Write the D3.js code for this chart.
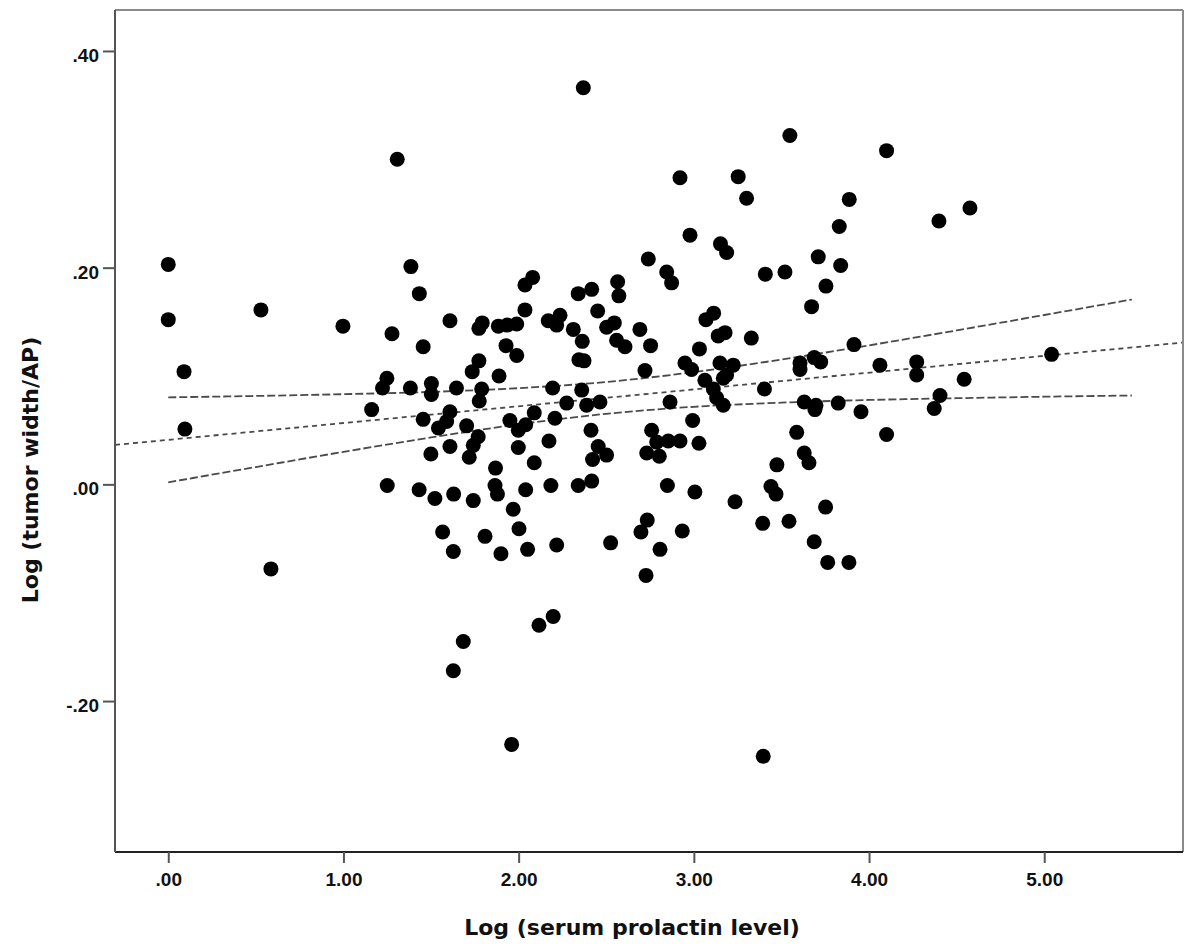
<!DOCTYPE html>
<html>
<head>
<meta charset="utf-8">
<script src="https://cdn.jsdelivr.net/npm/d3@7/dist/d3.min.js"></script>
<style>
  html, body { margin: 0; padding: 0; background: #fff; }
  svg { display: block; }
</style>
</head>
<body>
<svg id="chart" width="1184" height="951"></svg>
<script>
// ---------------- DATA ----------------
const prolactinLog = [
  0.000, 0.000, 0.090, 0.095, 0.529, 0.586, 0.997, 1.161, 1.307, 1.385,
  1.433, 1.277, 1.455, 1.608, 1.248, 1.223, 1.382, 1.502, 1.502, 1.645,
  1.789, 1.775, 1.735, 1.773, 1.455, 1.608, 1.589, 1.542, 1.703, 1.769,
  1.741, 1.718, 1.499, 1.608, 1.868, 1.250, 1.432, 1.522, 1.629, 1.741,
  1.865, 1.879, 1.566, 1.808, 1.627, 1.899, 1.684, 1.627, 2.978, 3.152,
  3.187, 3.408, 3.520, 2.740, 2.845, 2.873, 2.036, 2.080, 2.036, 2.340,
  2.417, 2.565, 2.572, 2.451, 1.773, 1.792, 1.884, 1.935, 1.989, 1.928,
  1.989, 2.169, 2.236, 2.217, 2.312, 2.363, 2.502, 2.546, 2.559, 2.607,
  2.692, 2.753, 2.344, 2.373, 3.032, 3.069, 3.113, 3.139, 3.178, 3.328,
  2.721, 2.949, 2.987, 3.149, 3.225, 3.063, 3.111, 3.168, 3.187, 3.130,
  3.168, 3.403, 2.864, 1.888, 2.194, 2.360, 2.274, 2.388, 2.464, 1.950,
  1.998, 2.040, 2.089, 2.207, 1.998, 2.173, 2.413, 2.454, 2.502, 2.422,
  2.089, 2.040, 2.184, 2.340, 2.417, 2.759, 2.788, 2.731, 2.803, 2.854,
  2.921, 3.029, 2.993, 2.849, 3.006, 3.235, 3.440, 3.474, 3.469, 1.969,
  2.002, 2.051, 2.217, 2.525, 2.734, 2.698, 2.807, 2.934, 2.727, 2.116,
  2.197, 1.960, 3.396, 3.393, 2.369, 2.921, 3.253, 3.301, 3.548, 4.100,
  3.887, 3.830, 4.399, 4.576, 3.710, 3.838, 3.754, 3.672, 3.606, 3.606,
  3.687, 3.724, 3.914, 4.062, 4.272, 4.272, 4.543, 5.042, 3.630, 3.697,
  3.691, 3.824, 3.954, 4.405, 4.372, 4.100, 3.587, 3.630, 3.657, 3.543,
  3.752, 3.687, 3.764, 3.885
];
const tumorWidthLog = [
  0.203, 0.152, 0.104, 0.051, 0.161, -0.078, 0.146, 0.069, 0.300, 0.201,
  0.176, 0.139, 0.127, 0.151, 0.098, 0.089, 0.089, 0.093, 0.083, 0.089,
  0.088, 0.077, 0.104, 0.114, 0.060, 0.067, 0.058, 0.052, 0.054, 0.044,
  0.036, 0.025, 0.028, 0.035, 0.015, -0.001, -0.005, -0.013, -0.009, -0.015,
  -0.001, -0.009, -0.044, -0.048, -0.062, -0.064, -0.145, -0.172, 0.230, 0.222,
  0.214, 0.194, 0.196, 0.208, 0.196, 0.186, 0.184, 0.191, 0.161, 0.176,
  0.180, 0.187, 0.174, 0.160, 0.144, 0.149, 0.146, 0.147, 0.148, 0.128,
  0.119, 0.151, 0.156, 0.147, 0.143, 0.132, 0.145, 0.149, 0.133, 0.127,
  0.143, 0.128, 0.115, 0.114, 0.125, 0.152, 0.158, 0.137, 0.140, 0.135,
  0.105, 0.112, 0.106, 0.112, 0.110, 0.096, 0.088, 0.098, 0.101, 0.080,
  0.073, 0.088, 0.076, 0.100, 0.089, 0.087, 0.075, 0.073, 0.076, 0.059,
  0.050, 0.055, 0.066, 0.061, 0.034, 0.040, 0.050, 0.035, 0.027, 0.023,
  0.020, -0.005, -0.001, -0.001, 0.003, 0.050, 0.039, 0.029, 0.026, 0.040,
  0.040, 0.038, 0.059, -0.001, -0.007, -0.016, -0.002, 0.018, -0.009, -0.023,
  -0.041, -0.060, -0.056, -0.054, -0.033, -0.044, -0.060, -0.043, -0.084, -0.130,
  -0.122, -0.240, -0.251, -0.036, 0.366, 0.283, 0.284, 0.264, 0.322, 0.308,
  0.263, 0.238, 0.243, 0.255, 0.210, 0.202, 0.183, 0.164, 0.112, 0.106,
  0.117, 0.113, 0.129, 0.110, 0.113, 0.101, 0.097, 0.120, 0.076, 0.073,
  0.069, 0.075, 0.067, 0.082, 0.070, 0.046, 0.048, 0.029, 0.020, -0.034,
  -0.021, -0.053, -0.072, -0.072
];

// Fit line (linear regression) coefficients
const fitIntercept = 0.0411;
const fitSlope = 0.0155;

// 95% confidence band for the mean, read at these x values
const ciX     = [0.0,    0.5,    1.0,    1.5,    2.0,    2.5,    3.0,    3.5,    4.0,    4.5,    5.0,    5.5];
const ciUpper = [0.0803, 0.0816, 0.0832, 0.0853, 0.0888, 0.0945, 0.1036, 0.1152, 0.1283, 0.1421, 0.1563, 0.1706];
const ciLower = [0.0019, 0.0160, 0.0300, 0.0433, 0.0554, 0.0651, 0.0716, 0.0754, 0.0779, 0.0795, 0.0809, 0.0820];

const xTicks = [0, 1, 2, 3, 4, 5];
const yTicks = [-0.2, 0, 0.2, 0.4];
const xDomain = [-0.304, 5.792];
const yDomain = [-0.3393, 0.4378];

const xTitle = "Log (serum prolactin level)";
const yTitle = "Log (tumor width/AP)";

// ---------------- DRAW ----------------
const svg = d3.select("#chart");
const plot = { left: 115, top: 10, right: 1183, bottom: 852 };

const x = d3.scaleLinear().domain(xDomain).range([plot.left, plot.right]);
const y = d3.scaleLinear().domain(yDomain).range([plot.bottom, plot.top]);

// SPSS style: ".40", "-.20", "1.00"
const fmt = v => {
  const s = Math.abs(v).toFixed(2).replace(/^0\./, ".");
  return (v < 0 ? "-" : "") + s;
};

svg.append("clipPath").attr("id", "plotclip")
  .append("rect")
  .attr("x", plot.left).attr("y", plot.top)
  .attr("width", plot.right - plot.left).attr("height", plot.bottom - plot.top);

const g = svg.append("g").attr("clip-path", "url(#plotclip)");

const lineColor = "#4a4a4a";

// confidence bands
const lineGen = d3.line().x(d => x(d[0])).y(d => y(d[1])).curve(d3.curveMonotoneX);
[ciUpper, ciLower].forEach(arr => {
  g.append("path")
    .datum(ciX.map((v, i) => [v, arr[i]]))
    .attr("d", lineGen)
    .attr("fill", "none").attr("stroke", lineColor).attr("stroke-width", 1.8)
    .attr("stroke-dasharray", "8,3");
});

// fit line
g.append("path")
  .datum(xDomain.map(v => [v, fitIntercept + fitSlope * v]))
  .attr("d", d3.line().x(d => x(d[0])).y(d => y(d[1])))
  .attr("fill", "none").attr("stroke", lineColor).attr("stroke-width", 1.8)
  .attr("stroke-dasharray", "5,4");

// points
g.selectAll("circle.pt")
  .data(prolactinLog.map((v, i) => [v, tumorWidthLog[i]]))
  .join("circle")
  .attr("class", "pt")
  .attr("cx", d => x(d[0]))
  .attr("cy", d => y(d[1]))
  .attr("r", 7.5)
  .attr("fill", "#000");

// frame
svg.append("line").attr("x1", plot.left).attr("x2", plot.right).attr("y1", plot.top).attr("y2", plot.top)
  .attr("stroke", "#8a8a8a").attr("stroke-width", 2);
svg.append("line").attr("x1", plot.right).attr("x2", plot.right).attr("y1", plot.top).attr("y2", plot.bottom)
  .attr("stroke", "#8a8a8a").attr("stroke-width", 2);

// x axis
const xAxis = d3.axisBottom(x).tickValues(xTicks).tickFormat(fmt).tickSize(11).tickPadding(10);
const gx = svg.append("g").attr("transform", `translate(0,${plot.bottom})`).call(xAxis);
gx.select(".domain").attr("stroke", "#222").attr("stroke-width", 2)
  .attr("d", `M${plot.left},0H${plot.right}`);
gx.selectAll(".tick line").attr("stroke", "#555").attr("stroke-width", 2);
gx.selectAll(".tick text")
  .attr("font-family", "'Liberation Sans', Arial, sans-serif")
  .attr("font-weight", "bold").attr("font-size", 19).attr("fill", "#111");

// y axis
const yAxis = d3.axisLeft(y).tickValues(yTicks).tickFormat(fmt).tickSize(12).tickPadding(4);
const gy = svg.append("g").attr("transform", `translate(${plot.left},0)`).call(yAxis);
gy.select(".domain").attr("stroke", "#555").attr("stroke-width", 2)
  .attr("d", `M0,${plot.top}V${plot.bottom}`);
gy.selectAll(".tick line").attr("stroke", "#555").attr("stroke-width", 2);
gy.selectAll(".tick text")
  .attr("font-family", "'Liberation Sans', Arial, sans-serif")
  .attr("font-weight", "bold").attr("font-size", 19).attr("fill", "#111")
  .attr("dy", "0.55em");

// titles
svg.append("text")
  .attr("x", 632).attr("y", 935)
  .attr("text-anchor", "middle")
  .attr("font-family", "'DejaVu Sans', Verdana, sans-serif")
  .attr("font-weight", "bold").attr("font-size", 22).attr("fill", "#111")
  .text(xTitle);

svg.append("text")
  .attr("transform", "translate(38,470) rotate(-90)")
  .attr("text-anchor", "middle")
  .attr("font-family", "'DejaVu Sans', Verdana, sans-serif")
  .attr("font-weight", "bold").attr("font-size", 22).attr("fill", "#111")
  .text(yTitle);
</script>
</body>
</html>
